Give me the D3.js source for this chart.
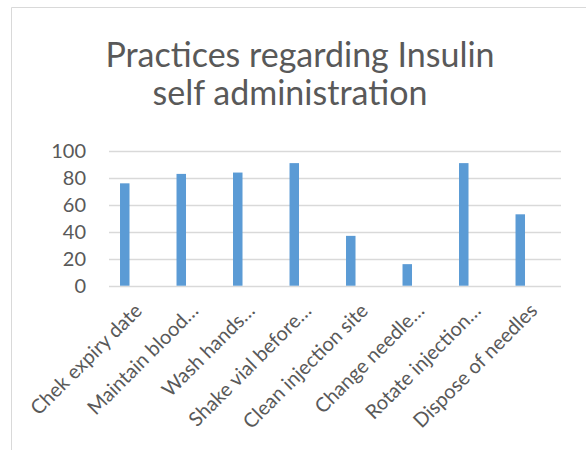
<!DOCTYPE html>
<html>
<head>
<meta charset="utf-8">
<script src="https://cdn.jsdelivr.net/npm/d3@7"></script>
<style>
  html, body { margin: 0; padding: 0; background: #fff; }
  svg { display: block; }
  text { font-family: Lato, "Open Sans", sans-serif; fill: #595959; }
</style>
</head>
<body>
<svg id="chart" width="586" height="450"></svg>
<script>
const categories = [
  "Chek expiry date",
  "Maintain blood\u2026",
  "Wash hands\u2026",
  "Shake vial before\u2026",
  "Clean injection site",
  "Change needle\u2026",
  "Rotate injection\u2026",
  "Dispose of needles"
];
const values = [76, 83, 84, 91, 37, 16, 91, 53];
const yTicks = [0, 20, 40, 60, 80, 100];
const titleLines = ["Practices regarding Insulin", "self administration"];

const svg = d3.select("#chart");

// chart border
svg.append("path")
  .attr("d", "M11.5,460 V7.5 H600")
  .attr("fill", "none")
  .attr("stroke", "#D9D9D9")
  .attr("stroke-width", 1);

// title
svg.append("text").attr("x", 300).attr("y", 67).attr("text-anchor", "middle")
  .style("font-size", "34px").text(titleLines[0]);
svg.append("text").attr("x", 290).attr("y", 105).attr("text-anchor", "middle")
  .style("font-size", "34px").text(titleLines[1]);

const x = d3.scaleBand().domain(categories).range([109, 561]).padding(0);
const y = d3.scaleLinear().domain([0, 100]).range([285.7, 151]);

// gridlines
svg.append("g").selectAll("line").data(yTicks).join("line")
  .attr("x1", 109).attr("x2", 561)
  .attr("y1", d => Math.round(y(d)) + 0.5).attr("y2", d => Math.round(y(d)) + 0.5)
  .attr("stroke", "#D9D9D9").attr("stroke-width", 1.5);

// y axis labels
const yAxis = d3.axisLeft(y).tickValues(yTicks).tickSize(0).tickPadding(0);
const gy = svg.append("g").attr("transform", "translate(86,0)").call(yAxis);
gy.select(".domain").remove();
gy.selectAll("text").style("font-size", "20px").attr("fill", "#595959")
  .style("font-family", "Lato, 'Open Sans', sans-serif");

// bars
const bw = x.bandwidth();
svg.append("g").selectAll("rect").data(values).join("rect")
  .attr("x", (d, i) => x(categories[i]) + bw * 0.195)
  .attr("width", bw * 0.168)
  .attr("y", d => y(d))
  .attr("height", d => y(0) - y(d))
  .attr("fill", "#5B9BD5");

// x labels
svg.append("g").selectAll("text").data(categories).join("text")
  .attr("transform", d => `translate(${x(d) + bw / 2 + 1},${307}) rotate(-45)`)
  .attr("text-anchor", "end")
  .attr("dy", "0.35em")
  .style("font-size", "20px")
  .text(d => d);
</script>
</body>
</html>
